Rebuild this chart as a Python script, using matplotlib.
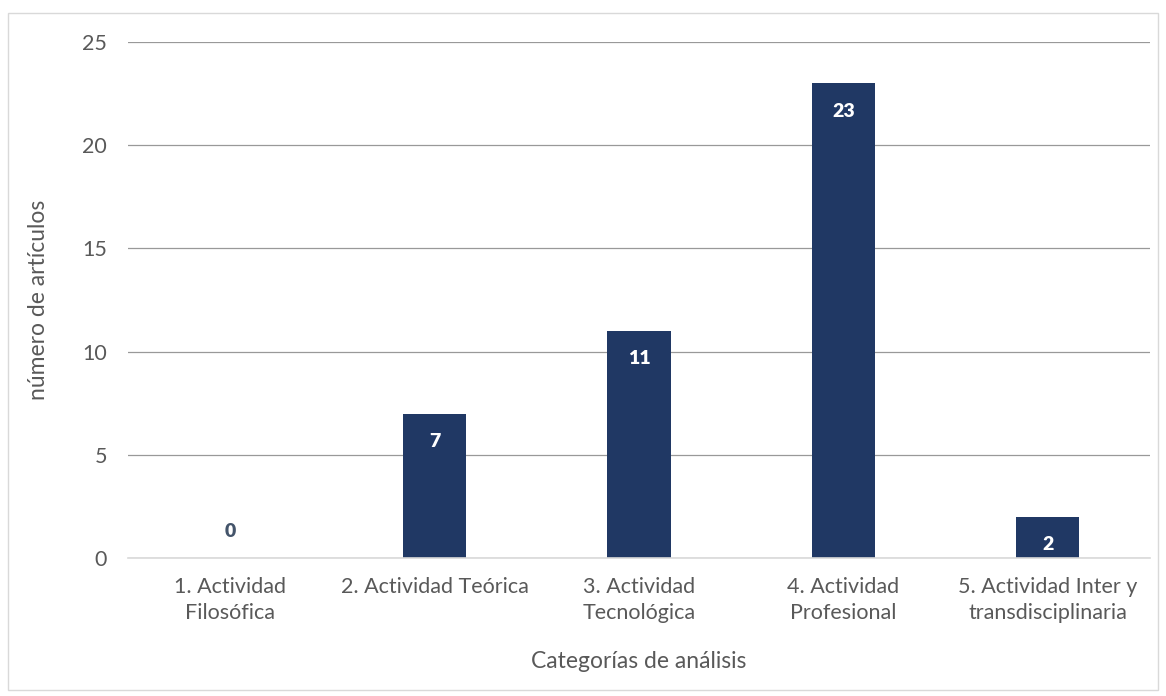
import matplotlib.pyplot as plt
from matplotlib.patches import Rectangle

categories = ['1. Actividad\nFilosófica', '2. Actividad Teórica', '3. Actividad\nTecnológica',
              '4. Actividad\nProfesional', '5. Actividad Inter y\ntransdisciplinaria']
values = [0, 7, 11, 23, 2]
yticks = [0, 5, 10, 15, 20, 25]

plt.rcParams['font.family'] = ['Lato', 'DejaVu Sans']
text_color = '#595959'
bar_color = '#203864'

fig = plt.figure(figsize=(11.66, 6.96), dpi=100)
fig.patches.append(Rectangle((8 / 1166, 6 / 696), 1150 / 1166, 677 / 696,
                             transform=fig.transFigure, fill=False,
                             edgecolor='#d9d9d9', linewidth=1))
ax = fig.add_axes([128 / 1166, 1 - 558 / 696, 1022 / 1166, 516 / 696])

x = range(len(categories))
bars = ax.bar(x, values, width=0.31, color=bar_color, zorder=3)

for xi, v in zip(x, values):
    if v == 0:
        ax.text(xi, 1.3, str(v), ha='center', va='center', color='#44546a',
                fontsize=14, fontweight='heavy')
    else:
        ax.text(xi, v - 1.35, str(v), ha='center', va='center', color='white',
                fontsize=14, fontweight='heavy', zorder=4)

ax.set_xlim(-0.5, len(categories) - 0.5)
ax.set_ylim(0, 25)
ax.set_yticks(yticks)
ax.set_xticks(list(x))
ax.set_xticklabels(categories, fontsize=15.5, color=text_color, linespacing=1.35)
ax.tick_params(axis='y', labelsize=15.5, labelcolor=text_color, length=0, pad=15)
ax.tick_params(axis='x', length=0, pad=14)
ax.grid(axis='y', color='#999999', linewidth=0.9, zorder=0)
for s in ['top', 'right', 'left']:
    ax.spines[s].set_visible(False)
ax.spines['bottom'].set_color('#d9d9d9')
ax.spines['bottom'].set_linewidth(1.2)
ax.spines['bottom'].set_zorder(4)

ax.set_xlabel('Categorías de análisis', fontsize=16.5, color=text_color, labelpad=20)
ax.set_ylabel('número de artículos', fontsize=16.5, color=text_color, labelpad=24)

fig.savefig('out.png', dpi=100)
